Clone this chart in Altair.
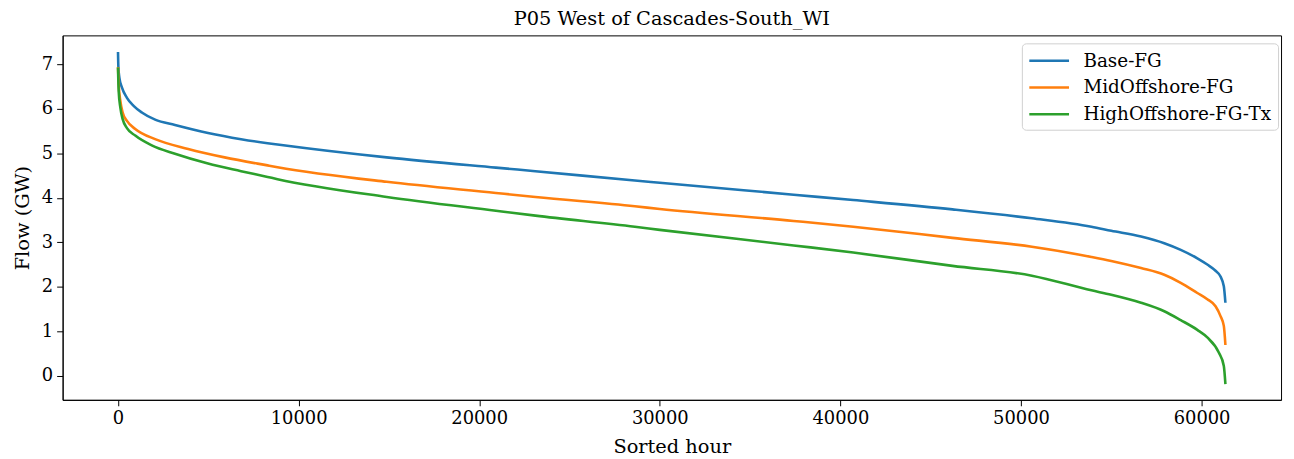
import altair as alt
import pandas as pd

series_names = ["Base-FG", "MidOffshore-FG", "HighOffshore-FG-Tx"]
series_colors = ["#1f77b4", "#ff7f0e", "#2ca02c"]

base_x = [0, 20, 77, 220, 495, 863, 1319, 2055, 3155, 4985, 6815, 8283, 8833,
          14878, 20924, 23113, 28619, 30000, 37413, 40711, 46206, 50603, 53899,
          54999, 56647, 57934, 58846, 59765, 60316, 60773, 61049, 61232, 61320]
base_y = [7.28, 6.95, 6.70, 6.48, 6.25, 6.07, 5.92, 5.76, 5.64, 5.46, 5.32, 5.23, 5.20,
          4.91, 4.68, 4.60, 4.39, 4.34, 4.07, 3.95, 3.74, 3.54, 3.35,
          3.26, 3.13, 2.98, 2.83, 2.64, 2.50, 2.36, 2.23, 2.01, 1.64]

mid_x = [0, 38, 130, 258, 495, 955, 2055, 3886, 5903, 8283, 8833,
         14878, 20924, 23113, 28619, 30000, 37413, 40711, 46206, 50603, 53899,
         54999, 56647, 57934, 58846, 59765, 60316, 60773, 61049, 61232, 61320]
mid_y = [6.94, 6.55, 6.18, 5.92, 5.73, 5.55, 5.32, 5.10, 4.91, 4.73, 4.69,
         4.36, 4.11, 4.02, 3.81, 3.75, 3.48, 3.35, 3.10, 2.90, 2.67,
         2.58, 2.42, 2.27, 2.09, 1.86, 1.72, 1.56, 1.34, 1.12, 0.69]

high_x = [0, 38, 130, 258, 495, 955, 1869, 3155, 4985, 6815, 8283, 8833,
          14878, 20924, 23113, 28619, 30000, 37413, 40711, 46206, 50603, 53899,
          54999, 56647, 57934, 58846, 59765, 60316, 60954, 61232, 61320]
high_y = [6.93, 6.40, 6.03, 5.77, 5.57, 5.40, 5.18, 4.99, 4.77, 4.60, 4.47, 4.42,
          4.02, 3.71, 3.60, 3.35, 3.28, 2.93, 2.77, 2.47, 2.25, 1.92,
          1.82, 1.64, 1.45, 1.25, 1.03, 0.86, 0.52, 0.22, -0.19]

rows = []
for name, xs, ys in zip(series_names, [base_x, mid_x, high_x], [base_y, mid_y, high_y]):
    for i, (x, y) in enumerate(zip(xs, ys)):
        rows.append({"series": name, "hour": x, "flow": y, "order": i})
df = pd.DataFrame(rows)

FONT = "DejaVu Serif"

chart = alt.Chart(df).mark_line(strokeWidth=2.6, interpolate="monotone").encode(
    x=alt.X("hour:Q", title="Sorted hour",
            scale=alt.Scale(domain=[-3067, 64400], nice=False, zero=False),
            axis=alt.Axis(values=[0, 10000, 20000, 30000, 40000, 50000, 60000],
                          format="d", grid=False)),
    y=alt.Y("flow:Q", title="Flow (GW)",
            scale=alt.Scale(domain=[-0.543, 7.654], nice=False, zero=False),
            axis=alt.Axis(values=[0, 1, 2, 3, 4, 5, 6, 7], grid=False)),
    color=alt.Color("series:N", title=None,
                    scale=alt.Scale(domain=series_names, range=series_colors),
                    legend=alt.Legend(orient="none", legendX=966, legendY=8,
                                      symbolType="M-1,0H3", symbolSize=400,
                                      symbolStrokeWidth=2.6,
                                      rowPadding=6,
                                      labelFont=FONT, labelFontSize=18.5,
                                      labelColor="black", labelOffset=33,
                                      labelLimit=400,
                                      padding=6,
                                      strokeColor="#d0d0d0", cornerRadius=4,
                                      fillColor="white")),
    order="order:Q",
).properties(
    width=1227, height=367,
    title=alt.TitleParams("P05 West of Cascades-South_WI", font=FONT, fontSize=19.5,
                          fontWeight="normal", color="black", anchor="middle",
                          offset=6),
    autosize=alt.AutoSizeParams(type="none"),
    padding={"left": 55, "top": 26, "right": 5, "bottom": 56},
).configure_axis(
    labelFont=FONT, labelFontSize=18, labelColor="black",
    titleFont=FONT, titleFontSize=19.5, titleFontWeight="normal", titleColor="black",
    domainColor="black", domainWidth=1, tickColor="black", tickSize=6,
    labelPadding=4,
).configure_axisY(titlePadding=9).configure_axisX(titlePadding=10).configure_view(
    stroke="black", strokeWidth=1
)

chart.save("out.html", embed_options={"renderer": "svg", "actions": False})
